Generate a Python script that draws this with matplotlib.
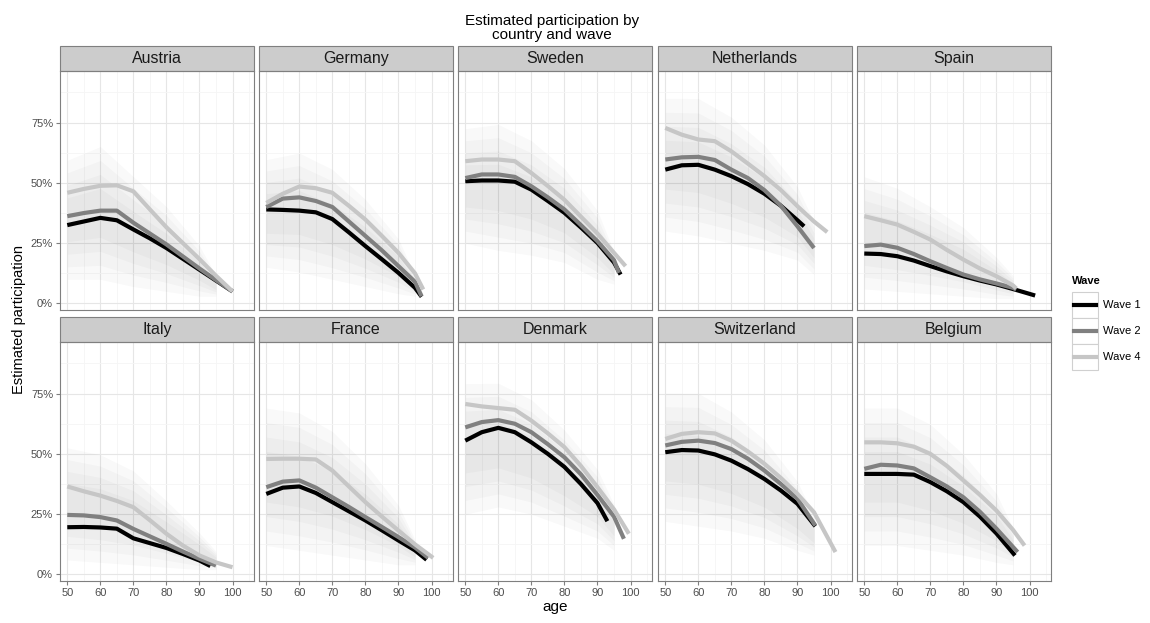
import numpy as np
from matplotlib import pyplot as plt
from matplotlib.patches import Rectangle
from matplotlib.lines import Line2D
from matplotlib.ticker import FuncFormatter, MultipleLocator

plt.rcParams["font.family"] = ["Liberation Sans", "DejaVu Sans"]

countries = ["Austria", "Germany", "Sweden", "Netherlands", "Spain",
             "Italy", "France", "Denmark", "Switzerland", "Belgium"]
waves = ["Wave 1", "Wave 2", "Wave 4"]

# smoothed participation read at ages 50..95 (nan = curve already ended)
ages = [50, 55, 60, 65, 70, 75, 80, 85, 90, 95]
nan = np.nan

wave1 = {
    "Austria":     [.325, .34, .355, .345, .307, .27, .23, .185, .14, .095],
    "Germany":     [.39, .388, .385, .378, .35, .295, .238, .183, .127, .065],
    "Sweden":      [.507, .51, .51, .505, .472, .425, .376, .315, .251, .17],
    "Netherlands": [.555, .573, .575, .555, .528, .495, .455, .405, .345, nan],
    "Spain":       [.207, .205, .196, .178, .155, .133, .113, .095, .079, .06],
    "Italy":       [.196, .197, .195, .19, .15, .13, .11, .085, .058, nan],
    "France":      [.334, .36, .365, .338, .30, .262, .224, .183, .141, .10],
    "Denmark":     [.555, .59, .608, .59, .548, .50, .446, .375, .296, nan],
    "Switzerland": [.507, .516, .514, .498, .472, .437, .396, .348, .293, nan],
    "Belgium":     [.417, .417, .417, .414, .383, .345, .30, .24, .17, nan],
}
wave1_end = {
    "Austria": (100, .05), "Germany": (97, .028), "Sweden": (97, .12),
    "Netherlands": (92, .32), "Spain": (101.7, .033), "Italy": (93.3, .035),
    "France": (98.5, .061), "Denmark": (93, .221), "Switzerland": (95.4, .20),
    "Belgium": (95.6, .079),
}

wave2 = {
    "Austria":     [.362, .375, .385, .385, .335, .29, .245, .195, .145, .097],
    "Germany":     [.40, .435, .44, .425, .40, .34, .28, .22, .155, .09],
    "Sweden":      [.52, .535, .535, .525, .486, .44, .39, .325, .258, .18],
    "Netherlands": [.597, .606, .608, .595, .555, .52, .47, .405, .32, nan],
    "Spain":       [.238, .244, .231, .205, .175, .147, .12, .10, .083, .065],
    "Italy":       [.247, .245, .238, .224, .189, .158, .127, .095, .065, nan],
    "France":      [.362, .385, .39, .36, .32, .28, .238, .197, .155, .112],
    "Denmark":     [.61, .632, .64, .625, .59, .54, .486, .415, .33, .24],
    "Switzerland": [.535, .55, .555, .545, .52, .48, .431, .375, .314, nan],
    "Belgium":     [.438, .455, .452, .44, .403, .365, .32, .26, .19, nan],
}
wave2_end = {
    "Austria": (100, .05), "Germany": (97, .03), "Sweden": (96.5, .127),
    "Netherlands": (95, .23), "Spain": (96, .058), "Italy": (95, .037),
    "France": (99, .069), "Denmark": (98, .148), "Switzerland": (95.4, .203),
    "Belgium": (96.4, .093),
}

wave4 = {
    "Austria":     [.459, .475, .488, .49, .465, .39, .316, .25, .184, .115],
    "Germany":     [.417, .455, .485, .478, .459, .405, .348, .28, .21, .125],
    "Sweden":      [.59, .597, .597, .59, .541, .487, .43, .36, .29, .21],
    "Netherlands": [.728, .70, .68, .673, .631, .58, .528, .47, .403, .34],
    "Spain":       [.362, .345, .327, .297, .265, .222, .182, .145, .113, .075],
    "Italy":       [.365, .345, .327, .305, .279, .225, .169, .12, .079, .05],
    "France":      [.479, .48, .48, .477, .431, .365, .30, .24, .182, .125],
    "Denmark":     [.707, .697, .69, .683, .638, .585, .528, .45, .362, .27],
    "Switzerland": [.562, .583, .59, .585, .555, .51, .459, .40, .334, .258],
    "Belgium":     [.548, .548, .544, .53, .50, .45, .39, .33, .265, .185],
}
wave4_end = {
    "Austria": (100, .05), "Germany": (97.5, .058), "Sweden": (98.5, .155),
    "Netherlands": (99, .296), "Spain": (96, .062), "Italy": (100, .03),
    "France": (100.5, .069), "Denmark": (99.5, .169), "Switzerland": (101.5, .093),
    "Belgium": (98.5, .12),
}

# rough extent of the cloud of individual estimates
cloud_ages = [50, 60, 70, 80, 90, 95]
cloud_lo = {
    "Austria": [.10, .10, .07, .05, .03, .03], "Germany": [.15, .13, .10, .07, .04, .03],
    "Sweden": [.25, .22, .20, .17, .10, .08], "Netherlands": [.30, .28, .25, .22, .18, .12],
    "Spain": [.06, .05, .04, .03, .02, .02], "Italy": [.06, .05, .04, .03, .02, .02],
    "France": [.12, .10, .08, .06, .04, .04], "Denmark": [.25, .28, .25, .20, .15, .10],
    "Switzerland": [.22, .20, .18, .15, .10, .08], "Belgium": [.12, .12, .10, .08, .05, .04],
}
cloud_hi = {
    "Austria": [.62, .68, .55, .42, .25, .12], "Germany": [.62, .65, .58, .45, .28, .12],
    "Sweden": [.75, .77, .70, .58, .40, .22], "Netherlands": [.88, .88, .80, .68, .50, .35],
    "Spain": [.55, .50, .42, .33, .20, .12], "Italy": [.55, .52, .45, .32, .18, .10],
    "France": [.72, .70, .62, .48, .30, .15], "Denmark": [.82, .82, .75, .62, .45, .30],
    "Switzerland": [.78, .78, .70, .58, .40, .25], "Belgium": [.72, .72, .65, .52, .35, .20],
}

wave_data = [(wave1, wave1_end), (wave2, wave2_end), (wave4, wave4_end)]
wave_colors = ["#000000", "#808080", "#c6c6c6"]

W, H = 1150, 623
fig = plt.figure(figsize=(W / 100, H / 100), dpi=100)


def px_box(left, top, width, height):
    return [left / W, 1 - (top + height) / H, width / W, height / H]


col_left = [60, 259, 458, 658, 857]
row_top = [71, 342]
panel_w, panel_h, strip_h = 194, 239, 25
grey50 = "#7f7f7f"

for i, c in enumerate(countries):
    row, col = divmod(i, 5)
    ax = fig.add_axes(px_box(col_left[col], row_top[row], panel_w, panel_h))
    ax.set_xlim(47.8, 106.5)
    ax.set_ylim(-0.027, 0.964)
    ax.set_axisbelow(True)

    ax.xaxis.set_major_locator(MultipleLocator(10))
    ax.xaxis.set_minor_locator(MultipleLocator(5))
    ax.yaxis.set_major_locator(MultipleLocator(0.25))
    ax.yaxis.set_minor_locator(MultipleLocator(0.125))
    ax.yaxis.set_major_formatter(FuncFormatter(lambda v, p: f"{v * 100:.0f}%"))
    ax.grid(which="major", color="#e6e6e6", lw=0.8)
    ax.grid(which="minor", color="#f5f5f5", lw=0.6)
    ax.tick_params(which="major", length=3, color=grey50, labelsize=8,
                   labelcolor="#4d4d4d", pad=2)
    ax.tick_params(which="minor", length=0)
    if row == 0:
        ax.tick_params(bottom=False, labelbottom=False)
    if col > 0:
        ax.tick_params(left=False, labelleft=False)
    for s in ax.spines.values():
        s.set_color(grey50)
        s.set_linewidth(0.8)

    # soft cloud: nested bands, denser towards the middle
    lo = np.array(cloud_lo[c])
    hi = np.array(cloud_hi[c])
    span = hi - lo
    for shrink in (0.0, 0.1, 0.2, 0.3):
        ax.fill_between(cloud_ages, lo + shrink * span, hi - (shrink + 0.05) * span,
                        color="black", alpha=0.022, lw=0)

    for (series, ends), color in zip(wave_data, wave_colors):
        vals = np.array(series[c], dtype=float)
        keep = ~np.isnan(vals)
        xs = np.append(np.array(ages)[keep], ends[c][0])
        ys = np.append(vals[keep], ends[c][1])
        ax.plot(xs, ys, color=color, lw=3, solid_joinstyle="round",
                solid_capstyle="butt")

    ax.add_patch(Rectangle((0, 1), 1, strip_h / panel_h, transform=ax.transAxes,
                           facecolor="#cccccc", edgecolor=grey50, lw=0.8,
                           clip_on=False))
    ax.text(0.5, 1 + strip_h / panel_h / 2, c, transform=ax.transAxes,
            ha="center", va="center", fontsize=11.5, color="#1a1a1a")

fig.text(552 / W, 1 - 28 / H, "Estimated participation by\ncountry and wave",
         ha="center", va="center", fontsize=11, linespacing=1.05)
fig.text(555 / W, 1 - 607 / H, "age", ha="center", va="center", fontsize=11)
fig.text(19 / W, 1 - 320 / H, "Estimated participation", ha="center",
         va="center", rotation=90, fontsize=10.5)

# legend
fig.text(1072 / W, 1 - 281 / H, "Wave", ha="left", va="center",
         fontsize=8, fontweight="bold")
for k, (label, color) in enumerate(zip(waves, wave_colors)):
    top = 292 + 26 * k
    fig.add_artist(Rectangle((1072 / W, 1 - (top + 26) / H), 26 / W, 26 / H,
                             transform=fig.transFigure, facecolor="white",
                             edgecolor="#d0d0d0", lw=0.8))
    fig.add_artist(Line2D([1074 / W, 1096 / W], [1 - (top + 13) / H] * 2,
                          transform=fig.transFigure, color=color, lw=3))
    fig.text(1103 / W, 1 - (top + 13) / H, label, ha="left", va="center",
             fontsize=8)

fig.savefig("out.png", dpi=100)
